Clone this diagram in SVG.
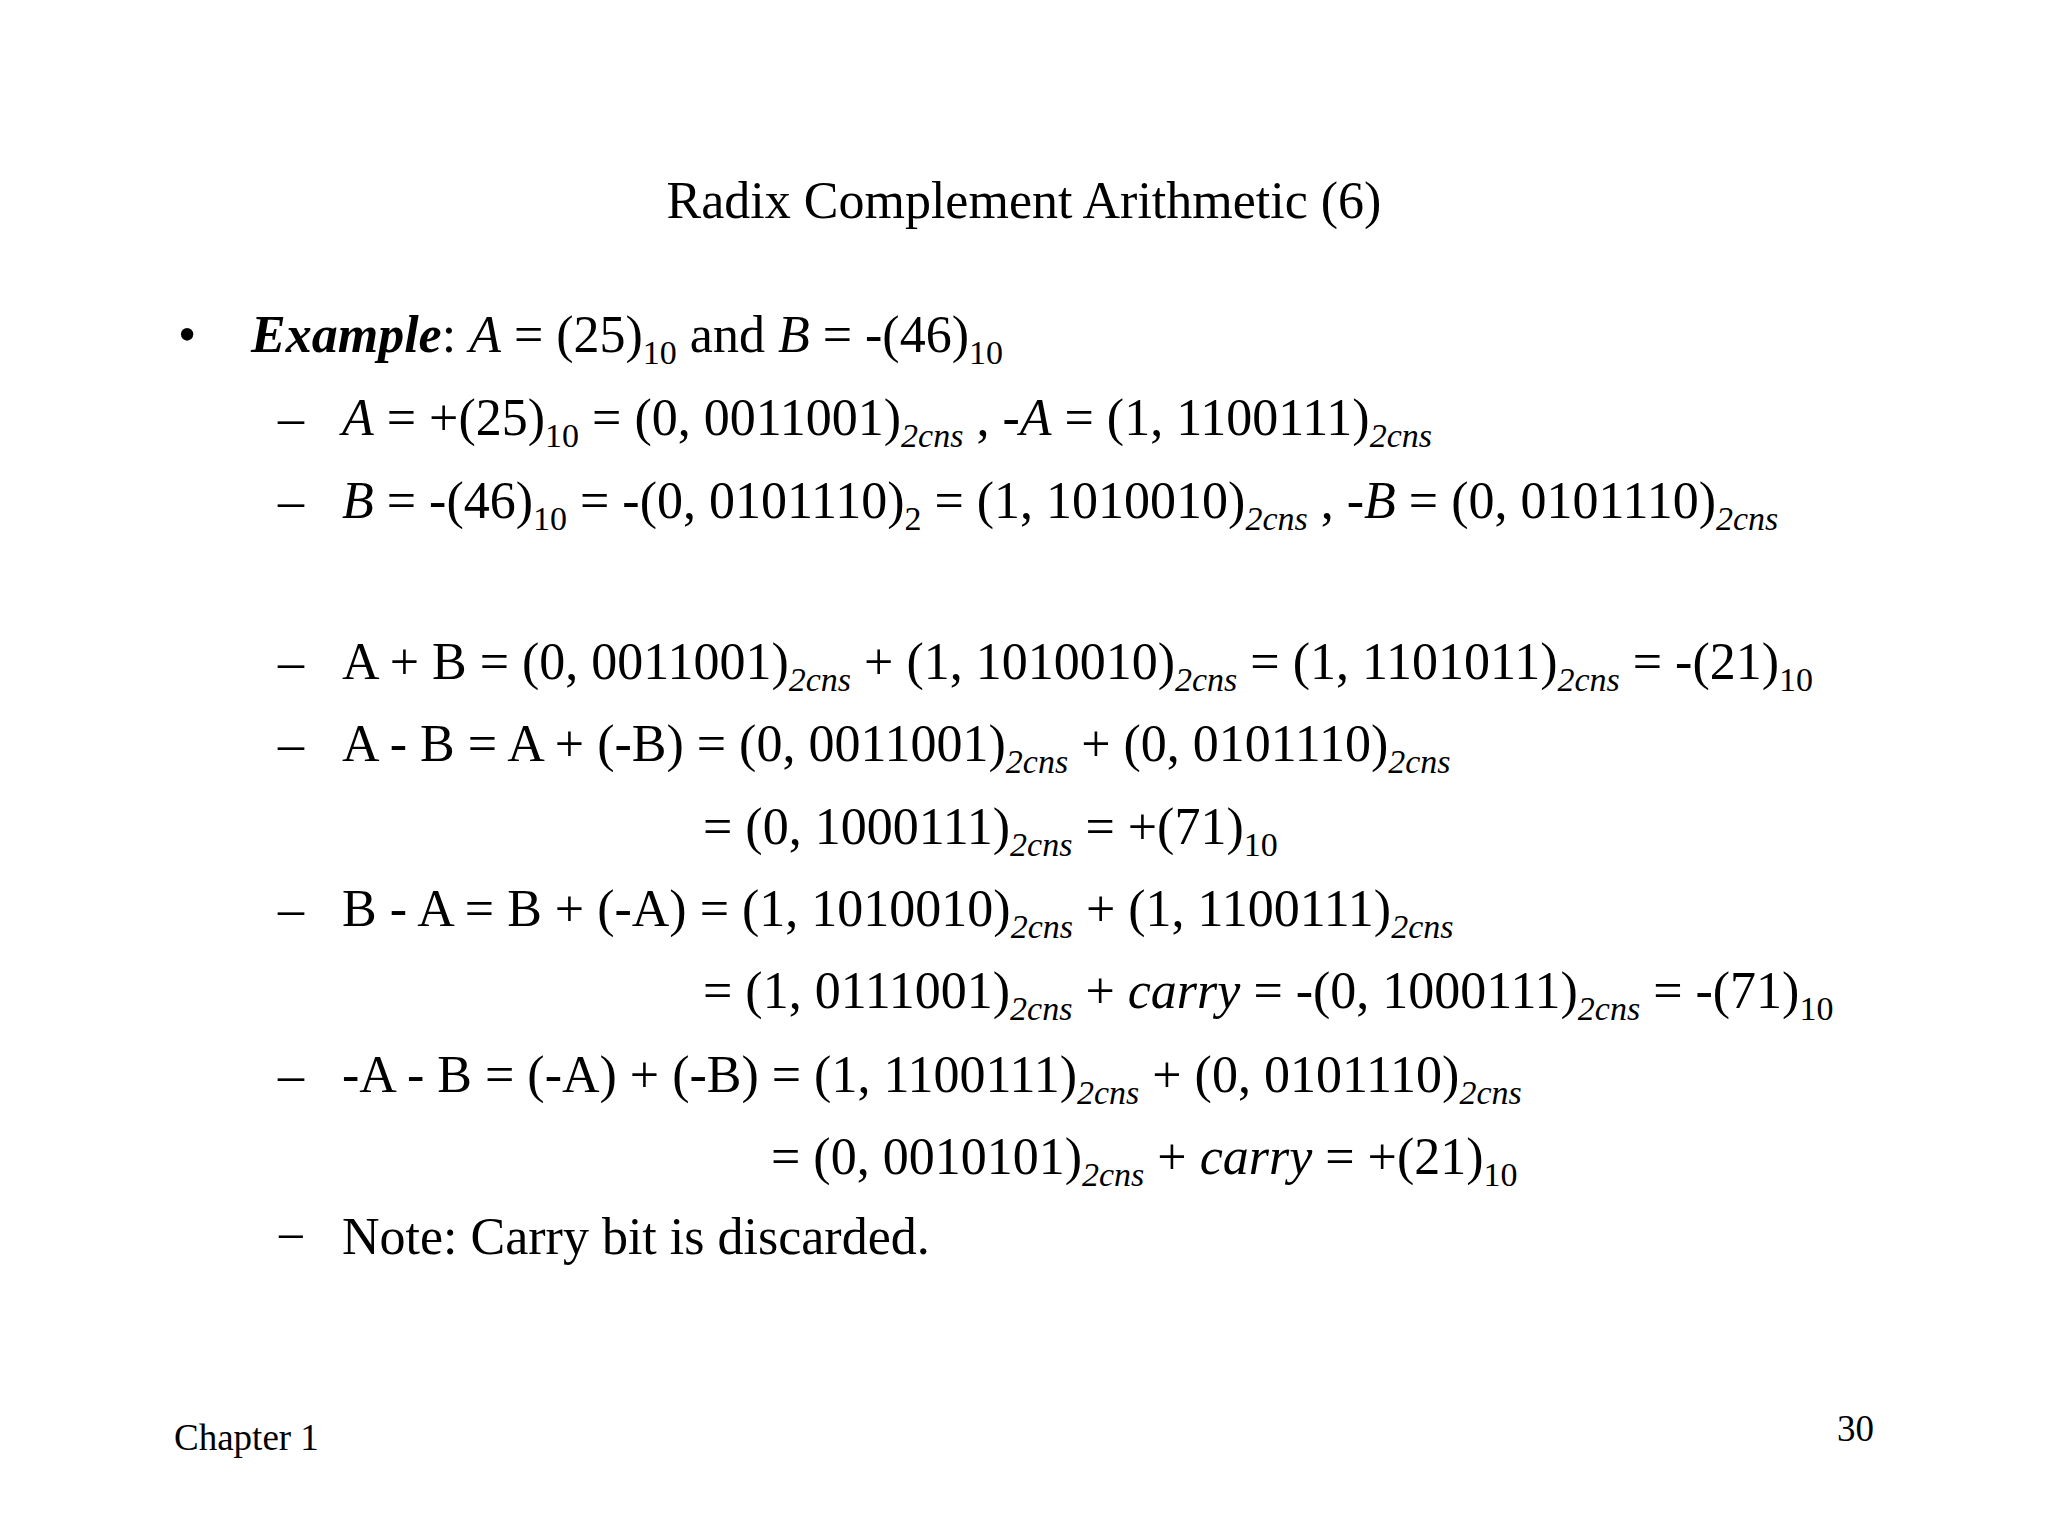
<svg xmlns="http://www.w3.org/2000/svg" width="2048" height="1536" viewBox="0 0 2048 1536">
<style>
text{font-family:"Liberation Serif","Times New Roman",serif;font-size:52px;fill:#000}
.s{font-size:34px}
.i{font-style:italic}
.f{font-size:37px}
</style>
<rect width="2048" height="1536" fill="#fff"/>
<text x="1024" y="218" text-anchor="middle" font-size="53">Radix Complement Arithmetic (6)</text>
<g id="body">
<text x="178" y="352">•</text>
<text x="251" y="352"><tspan class="i" font-weight="bold">Example</tspan>: <tspan class="i">A</tspan> = (25)<tspan class="s" dy="12">10</tspan><tspan dy="-12"> and </tspan><tspan class="i">B</tspan> = -(46)<tspan class="s" dy="12">10</tspan></text>

<text x="278" y="435">–</text>
<text x="342" y="435"><tspan class="i">A</tspan> = +(25)<tspan class="s" dy="12">10</tspan><tspan dy="-12"> = (0, 0011001)</tspan><tspan class="s i" dy="12">2cns</tspan><tspan dy="-12"> , -</tspan><tspan class="i">A</tspan> = (1, 1100111)<tspan class="s i" dy="12">2cns</tspan></text>

<text x="278" y="518">–</text>
<text x="342" y="518"><tspan class="i">B</tspan> = -(46)<tspan class="s" dy="12">10</tspan><tspan dy="-12"> = -(0, 0101110)</tspan><tspan class="s" dy="12">2</tspan><tspan dy="-12"> = (1, 1010010)</tspan><tspan class="s i" dy="12">2cns</tspan><tspan dy="-12"> , -</tspan><tspan class="i">B</tspan> = (0, 0101110)<tspan class="s i" dy="12">2cns</tspan></text>

<text x="278" y="679">–</text>
<text x="342" y="679">A + B = (0, 0011001)<tspan class="s i" dy="12">2cns</tspan><tspan dy="-12"> + (1, 1010010)</tspan><tspan class="s i" dy="12">2cns</tspan><tspan dy="-12"> = (1, 1101011)</tspan><tspan class="s i" dy="12">2cns</tspan><tspan dy="-12"> = -(21)</tspan><tspan class="s" dy="12">10</tspan></text>

<text x="278" y="761">–</text>
<text x="342" y="761">A - B = A + (-B) = (0, 0011001)<tspan class="s i" dy="12">2cns</tspan><tspan dy="-12"> + (0, 0101110)</tspan><tspan class="s i" dy="12">2cns</tspan></text>

<text x="703" y="844">= (0, 1000111)<tspan class="s i" dy="12">2cns</tspan><tspan dy="-12"> = +(71)</tspan><tspan class="s" dy="12">10</tspan></text>

<text x="278" y="926">–</text>
<text x="342" y="926">B - A = B + (-A) = (1, 1010010)<tspan class="s i" dy="12">2cns</tspan><tspan dy="-12"> + (1, 1100111)</tspan><tspan class="s i" dy="12">2cns</tspan></text>

<text x="703" y="1008">= (1, 0111001)<tspan class="s i" dy="12">2cns</tspan><tspan dy="-12"> + </tspan><tspan class="i">carry</tspan> = -(0, 1000111)<tspan class="s i" dy="12">2cns</tspan><tspan dy="-12"> = -(71)</tspan><tspan class="s" dy="12">10</tspan></text>

<text x="278" y="1092">–</text>
<text x="342" y="1092">-A - B = (-A) + (-B) = (1, 1100111)<tspan class="s i" dy="12">2cns</tspan><tspan dy="-12"> + (0, 0101110)</tspan><tspan class="s i" dy="12">2cns</tspan></text>

<text x="771" y="1174">= (0, 0010101)<tspan class="s i" dy="12">2cns</tspan><tspan dy="-12"> + </tspan><tspan class="i">carry</tspan> = +(21)<tspan class="s" dy="12">10</tspan></text>

<text x="276" y="1254">−</text>
<text x="342" y="1254">Note: Carry bit is discarded.</text>
</g>
<text class="f" x="174" y="1450">Chapter 1</text>
<text class="f" x="1874" y="1441" text-anchor="end">30</text>
</svg>
